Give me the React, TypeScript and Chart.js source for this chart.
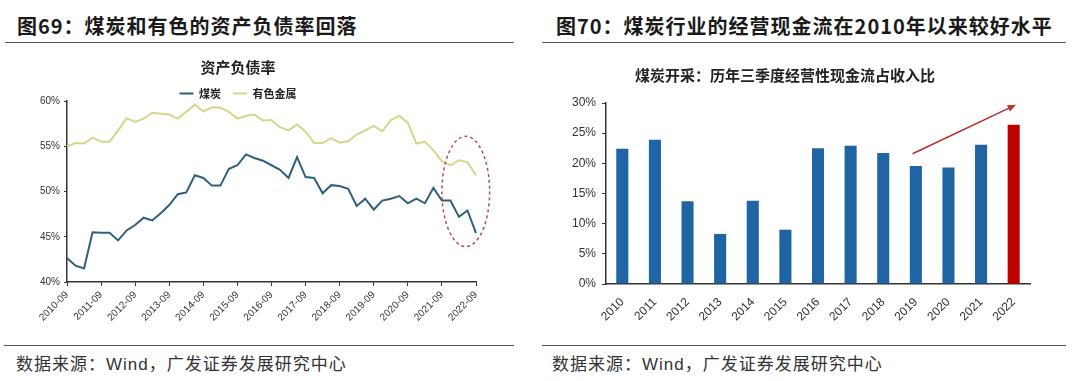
import React, { useEffect, useRef } from 'react';
import { Chart, registerables } from 'chart.js';

Chart.register(...registerables);

// ---------- Data: left chart (资产负债率) ----------
const quarterLabels = [
  '2010-09', '2010-12', '2011-03', '2011-06', '2011-09', '2011-12', '2012-03', '2012-06',
  '2012-09', '2012-12', '2013-03', '2013-06', '2013-09', '2013-12', '2014-03', '2014-06',
  '2014-09', '2014-12', '2015-03', '2015-06', '2015-09', '2015-12', '2016-03', '2016-06',
  '2016-09', '2016-12', '2017-03', '2017-06', '2017-09', '2017-12', '2018-03', '2018-06',
  '2018-09', '2018-12', '2019-03', '2019-06', '2019-09', '2019-12', '2020-03', '2020-06',
  '2020-09', '2020-12', '2021-03', '2021-06', '2021-09', '2021-12', '2022-03', '2022-06',
  '2022-09',
];

const coalDebtRatio = [
  42.65, 41.8, 41.5, 45.5, 45.45, 45.45, 44.6, 45.7, 46.3, 47.1,
  46.8, 47.6, 48.5, 49.7, 49.9, 51.8, 51.5, 50.65, 50.65, 52.5,
  52.9, 54.1, 53.7, 53.4, 52.9, 52.4, 51.5, 53.8, 51.6, 51.5,
  49.8, 50.7, 50.6, 50.3, 48.4, 49.2, 48.0, 49.0, 49.2, 49.5,
  48.7, 49.2, 48.7, 50.4, 49.0, 49.0, 47.2, 47.9, 45.4,
];

const nonferrousDebtRatio = [
  55.0, 55.35, 55.3, 55.95, 55.5, 55.5, 56.75, 58.1, 57.7, 58.05,
  58.7, 58.6, 58.5, 58.05, 58.8, 59.6, 58.85, 59.3, 59.25, 58.8,
  58.05, 58.35, 58.5, 57.85, 57.9, 57.1, 56.75, 57.4, 56.6, 55.35,
  55.35, 55.9, 55.4, 55.55, 56.3, 56.75, 57.25, 56.65, 57.9, 58.35,
  57.6, 55.3, 55.5, 54.55, 53.35, 52.9, 53.45, 53.25, 51.8,
];

const leftSeriesNames = ['煤炭', '有色金属'];
const leftTitle = '资产负债率';

// highlight ellipse, in data units (category index / percent)
const ELLIPSE_CENTER_INDEX = 46.8;
const ELLIPSE_CENTER_VALUE = 50.0;
const ELLIPSE_HALF_INDEX = 2.8;
const ELLIPSE_HALF_VALUE = 6.1;

// ---------- Data: right chart ----------
const yearLabels = ['2010', '2011', '2012', '2013', '2014', '2015', '2016', '2017', '2018', '2019', '2020', '2021', '2022'];
const cashFlowRatio = [22.4, 23.9, 13.7, 8.3, 13.8, 9.0, 22.5, 22.9, 21.7, 19.55, 19.3, 23.1, 26.4];
const rightTitle = '煤炭开采：历年三季度经营性现金流占收入比';

// trend arrow, in data units
const ARROW_FROM_INDEX = 8.9;
const ARROW_FROM_VALUE = 21.6;
const ARROW_TO_INDEX = 12.07;
const ARROW_TO_VALUE = 29.7;

// ---------- Texts ----------
const leftHeader = '图69：煤炭和有色的资产负债率回落';
const rightHeader = '图70：煤炭行业的经营现金流在2010年以来较好水平';
const sourceText = '数据来源：Wind，广发证券发展研究中心';

const LATIN = '"Liberation Sans", Arial, sans-serif';
const CJK = '"Noto Sans CJK SC", "Liberation Sans", sans-serif';
const MIXED = '"Liberation Sans", "Noto Sans CJK SC", sans-serif';

const ellipsePlugin = {
  id: 'ellipseNote',
  afterDatasetsDraw(chart: any) {
    const { ctx, scales } = chart;
    const x = scales.x;
    const y = scales.y;
    const cx = x.getPixelForValue(ELLIPSE_CENTER_INDEX);
    const cy = y.getPixelForValue(ELLIPSE_CENTER_VALUE);
    const rx = Math.abs(x.getPixelForValue(ELLIPSE_CENTER_INDEX + ELLIPSE_HALF_INDEX) - cx);
    const ry = Math.abs(y.getPixelForValue(ELLIPSE_CENTER_VALUE + ELLIPSE_HALF_VALUE) - cy);
    ctx.save();
    ctx.setLineDash([3, 3]);
    ctx.strokeStyle = '#b24a5c';
    ctx.lineWidth = 1.5;
    ctx.beginPath();
    ctx.ellipse(cx, cy, rx, ry, 0, 0, Math.PI * 2);
    ctx.stroke();
    ctx.restore();
  },
};

const arrowPlugin = {
  id: 'trendArrow',
  afterDatasetsDraw(chart: any) {
    const { ctx, scales } = chart;
    const x = scales.x;
    const y = scales.y;
    const x1 = x.getPixelForValue(ARROW_FROM_INDEX);
    const y1 = y.getPixelForValue(ARROW_FROM_VALUE);
    const x2 = x.getPixelForValue(ARROW_TO_INDEX);
    const y2 = y.getPixelForValue(ARROW_TO_VALUE);
    const ang = Math.atan2(y2 - y1, x2 - x1);
    const head = 9;
    ctx.save();
    ctx.strokeStyle = '#b8312f';
    ctx.fillStyle = '#b8312f';
    ctx.lineWidth = 1.6;
    ctx.beginPath();
    ctx.moveTo(x1, y1);
    ctx.lineTo(x2 - Math.cos(ang) * head * 0.8, y2 - Math.sin(ang) * head * 0.8);
    ctx.stroke();
    ctx.beginPath();
    ctx.moveTo(x2, y2);
    ctx.lineTo(x2 - head * Math.cos(ang - 0.4), y2 - head * Math.sin(ang - 0.4));
    ctx.lineTo(x2 - head * Math.cos(ang + 0.4), y2 - head * Math.sin(ang + 0.4));
    ctx.closePath();
    ctx.fill();
    ctx.restore();
  },
};

function DebtChart() {
  const ref = useRef<HTMLCanvasElement | null>(null);
  useEffect(() => {
    if (!ref.current) return;
    const chart = new Chart(ref.current, {
      type: 'line',
      data: {
        labels: quarterLabels,
        datasets: [
          {
            label: leftSeriesNames[0],
            data: coalDebtRatio,
            borderColor: '#2f5f7e',
            backgroundColor: '#2f5f7e',
            borderWidth: 2,
            pointRadius: 0,
            tension: 0,
          },
          {
            label: leftSeriesNames[1],
            data: nonferrousDebtRatio,
            borderColor: '#d6d68c',
            backgroundColor: '#d6d68c',
            borderWidth: 2,
            pointRadius: 0,
            tension: 0,
          },
        ],
      },
      options: {
        responsive: false,
        animation: false,
        events: [],
        layout: { padding: { left: 0, right: 42, top: 0, bottom: 0 } },
        plugins: {
          title: {
            display: true,
            text: leftTitle,
            color: '#222',
            font: { family: CJK, size: 15, weight: 'bold' },
            padding: { top: 8, bottom: 0 },
          },
          legend: {
            display: true,
            maxHeight: 25,
            labels: {
              usePointStyle: true,
              pointStyle: 'line',
              pointStyleWidth: 14,
              color: '#222',
              font: { family: CJK, size: 11, weight: 'bold' },
              padding: 12,
            },
          },
          tooltip: { enabled: false },
        },
        scales: {
          x: {
            type: 'category',
            offset: false,
            border: { display: true, color: '#333', width: 1.5 },
            grid: {
              display: true,
              drawOnChartArea: false,
              tickLength: 4,
              color: (c: any) => (c.index % 4 === 0 ? '#333' : 'rgba(0,0,0,0)'),
            },
            ticks: {
              autoSkip: false,
              minRotation: 45,
              maxRotation: 45,
              color: '#333',
              font: { family: LATIN, size: 10 },
              callback: (_v: any, i: number) => (i % 4 === 0 ? quarterLabels[i] : ''),
            },
            afterFit: (s: any) => {
              s.height = 53;
            },
          },
          y: {
            min: 40,
            max: 60,
            border: { display: true, color: '#333', width: 1.5 },
            grid: { display: true, drawOnChartArea: false, tickLength: 3, color: '#333' },
            ticks: {
              stepSize: 5,
              padding: 4,
              color: '#333',
              font: { family: LATIN, size: 10 },
              callback: (v: any) => `${v}%`,
            },
            afterFit: (s: any) => {
              s.width = 67;
            },
          },
        },
      },
      plugins: [ellipsePlugin],
    } as any);
    return () => chart.destroy();
  }, []);
  return (
    <canvas
      ref={ref}
      width={518}
      height={285}
      style={{ position: 'absolute', left: 0, top: 50, width: 518, height: 285 }}
    />
  );
}

function CashChart() {
  const ref = useRef<HTMLCanvasElement | null>(null);
  useEffect(() => {
    if (!ref.current) return;
    const colors = yearLabels.map((_, i) => (i === yearLabels.length - 1 ? '#c00000' : '#1f64a3'));
    const chart = new Chart(ref.current, {
      type: 'bar',
      data: {
        labels: yearLabels,
        datasets: [
          {
            label: rightTitle,
            data: cashFlowRatio,
            backgroundColor: colors,
            borderWidth: 0,
            barPercentage: 0.37,
            categoryPercentage: 1,
          },
        ],
      },
      options: {
        responsive: false,
        animation: false,
        events: [],
        layout: { padding: { left: 0, right: 37, top: 0, bottom: 0 } },
        plugins: {
          title: {
            display: true,
            text: rightTitle,
            color: '#222',
            font: { family: CJK, size: 15, weight: 'bold' },
            padding: { top: 16, bottom: 19 },
          },
          legend: { display: false },
          tooltip: { enabled: false },
        },
        scales: {
          x: {
            border: { display: true, color: '#333', width: 1.5 },
            grid: { display: false },
            ticks: {
              autoSkip: false,
              minRotation: 45,
              maxRotation: 45,
              color: '#333',
              font: { family: LATIN, size: 12 },
            },
            afterFit: (s: any) => {
              s.height = 51;
            },
          },
          y: {
            min: 0,
            max: 30,
            border: { display: true, color: '#333', width: 1.5 },
            grid: { display: true, drawOnChartArea: false, tickLength: 4, color: '#333' },
            ticks: {
              stepSize: 5,
              padding: 6,
              color: '#333',
              font: { family: LATIN, size: 12 },
              callback: (v: any) => `${v}%`,
            },
            afterFit: (s: any) => {
              s.width = 66;
            },
          },
        },
      },
      plugins: [arrowPlugin],
    } as any);
    return () => chart.destroy();
  }, []);
  return (
    <canvas
      ref={ref}
      width={527}
      height={285}
      style={{ position: 'absolute', left: 540, top: 50, width: 527, height: 285 }}
    />
  );
}

const headerStyle: React.CSSProperties = {
  position: 'absolute',
  top: 14,
  height: 24,
  lineHeight: '24px',
  fontFamily: CJK,
  fontWeight: 700,
  fontSize: 20,
  letterSpacing: '1px',
  color: '#1a1a1a',
  whiteSpace: 'nowrap',
};

const footerStyle: React.CSSProperties = {
  position: 'absolute',
  top: 355,
  height: 20,
  lineHeight: '20px',
  fontFamily: MIXED,
  fontWeight: 400,
  fontSize: 17,
  letterSpacing: '1px',
  color: '#333',
  whiteSpace: 'nowrap',
};

const ruleStyle = (left: number, top: number, width: number): React.CSSProperties => ({
  position: 'absolute',
  left,
  top,
  width,
  height: 0,
  borderTop: '1.5px solid #555',
});

export default function App() {
  return (
    <div
      style={{
        position: 'fixed',
        left: 0,
        top: 0,
        width: 1080,
        height: 381,
        background: '#fff',
        overflow: 'hidden',
      }}
    >
      <div style={{ ...headerStyle, left: 17 }}>{leftHeader}</div>
      <div style={{ ...headerStyle, left: 556 }}>{rightHeader}</div>
      <div style={ruleStyle(5, 42, 509)} />
      <div style={ruleStyle(542, 42, 524)} />
      <DebtChart />
      <CashChart />
      <div style={ruleStyle(4, 345, 510)} />
      <div style={ruleStyle(542, 345, 524)} />
      <div style={{ ...footerStyle, left: 16 }}>{sourceText}</div>
      <div style={{ ...footerStyle, left: 552 }}>{sourceText}</div>
    </div>
  );
}
